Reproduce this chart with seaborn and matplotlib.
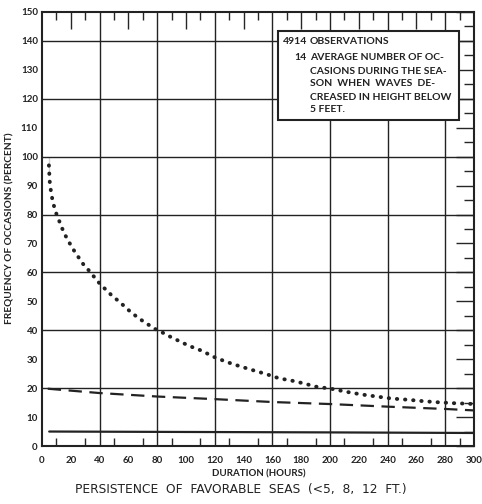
import numpy as np
import pandas as pd
import matplotlib
matplotlib.use("Agg")
import matplotlib.pyplot as plt
from matplotlib.patches import Rectangle
import seaborn as sns

W, H = 482, 504

# curve for waves below 5 ft (dotted)
hours_5ft = [4.8, 4.8, 5.3, 6.0, 6.7, 7.8, 9.4, 11.7, 14.0, 16.3, 19.3, 22.3, 25.8,
             29.4, 32.9, 36.6, 40.3, 44.6, 48.3, 52.4, 57.0, 61.4, 65.5, 69.7, 74.3,
             79.1, 83.7, 88.1, 92.7, 97.5, 101.9, 106.2, 110.6, 119.3, 127.9, 135.9,
             145.1, 155.4, 164.6, 174.3, 182.0, 190.3, 200.7, 211.7, 222.0, 232.4,
             242.8, 253.8, 264.6, 275.4, 286.0, 296.1, 300.0]
pct_5ft = [100.0, 94.0, 91.7, 88.8, 86.5, 83.9, 81.0, 78.1, 75.2, 72.7, 70.0, 67.5, 64.9,
           62.3, 60.5, 58.2, 56.0, 53.9, 52.1, 50.4, 48.4, 46.4, 44.8, 43.3, 41.8,
           40.3, 39.2, 38.0, 36.9, 35.7, 34.7, 33.8, 33.0, 30.8, 29.1, 27.8,
           26.4, 24.9, 23.4, 22.5, 21.6, 20.5, 19.8, 18.7, 17.8, 17.1,
           16.4, 16.0, 15.5, 15.1, 14.8, 14.6, 14.5]

# dashed curve
hours_dash = [4, 40, 80, 120, 160, 200, 240, 280, 300]
pct_dash = [19.8, 18.3, 17.1, 16.2, 15.2, 14.5, 13.6, 12.8, 12.3]

# solid curve
hours_solid = [5, 100, 200, 300]
pct_solid = [5.0, 4.85, 4.7, 4.5]

x_ticks = list(range(0, 301, 20))
y_ticks = list(range(0, 151, 10))

note_num = ["4914", "14"]
note_lines = [["OBSERVATIONS"],
              ["AVERAGE NUMBER OF OC-", "CASIONS DURING THE SEA-",
               "SON  WHEN  WAVES  DE-", "CREASED IN HEIGHT BELOW", "5 FEET."]]

sns.set_style("white")
plt.rcParams["font.family"] = ["Lato", "DejaVu Sans"]

fig = plt.figure(figsize=(W / 100, H / 100), dpi=100)
ax = fig.add_axes([42 / W, 1 - 446 / H, (474 - 42) / W, (446 - 12) / H])


def fpos(x, y):
    return x / W, 1 - y / H


df_dot = pd.DataFrame({"h": hours_5ft, "p": pct_5ft})
df_dash = pd.DataFrame({"h": hours_dash, "p": pct_dash})
df_solid = pd.DataFrame({"h": hours_solid, "p": pct_solid})

sns.lineplot(data=df_dot, x="h", y="p", ax=ax, sort=False, color="#222222",
             lw=2.8, linestyle=(0, (0.1, 2.0)), dash_capstyle="round", zorder=4)
sns.lineplot(data=df_dash, x="h", y="p", ax=ax, sort=False, color="#222222",
             lw=1.6, linestyle=(0, (6.0, 3.4)), zorder=4)
sns.lineplot(data=df_solid, x="h", y="p", ax=ax, sort=False, color="#222222",
             lw=1.6, zorder=4)

ax.set_xlim(0, 300)
ax.set_ylim(0, 150)

# grid
for gx in range(40, 300, 40):
    ax.axvline(gx, color="#222222", lw=1.0, zorder=1)
for gy in range(20, 150, 20):
    ax.axhline(gy, color="#222222", lw=1.0, zorder=1)

ax.set_xticks(x_ticks)
ax.set_xticklabels([str(t) for t in x_ticks])
ax.set_yticks(y_ticks)
ax.set_yticklabels([str(t) for t in y_ticks])
ax.set_xticks(list(range(10, 300, 20)), minor=True)
ax.set_yticks(list(range(5, 150, 10)), minor=True)
ax.tick_params(axis="x", which="major", direction="in", length=0, pad=7,
               labelsize=7, top=False)
ax.tick_params(axis="x", which="minor", direction="in", length=6, width=1.0,
               bottom=True, top=True)
ax.tick_params(axis="y", which="major", direction="in", length=13, width=1.0,
               pad=3, labelsize=7, right=True)
ax.tick_params(axis="y", which="minor", direction="in", length=7, width=1.0,
               right=True)
for lab in ax.get_xticklabels() + ax.get_yticklabels():
    lab.set_fontweight("bold")
    lab.set_color("#222222")

# extra top ticks at the 20-hour marks
sec = ax.secondary_xaxis("top")
sec.set_xticks([t for t in range(20, 300, 20) if t % 40 != 0])
sec.tick_params(direction="in", length=12, width=1.0, labeltop=False)
sec.spines["top"].set_visible(False)

for s in ax.spines.values():
    s.set_linewidth(1.5)
    s.set_color("#222222")

ax.set_xlabel("")
ax.set_ylabel("")

fig.text(*fpos(259, 474), "DURATION (HOURS)", ha="center", va="center",
         fontsize=7, fontweight="bold", color="#222222")
fig.text(*fpos(10, 228), "FREQUENCY OF OCCASIONS (PERCENT)", ha="center",
         va="center", rotation=90, fontsize=7.3, fontweight="bold", color="#222222")
fig.text(*fpos(241, 489), "PERSISTENCE  OF  FAVORABLE  SEAS  (<5,  8,  12  FT.)",
         ha="center", va="center", fontsize=8.8, color="#222222",
         family=["DejaVu Sans"])

# note box
bx0, by0 = fpos(278, 120)
bx1, by1 = fpos(459, 31)
fig.patches.append(Rectangle((bx0, by0), bx1 - bx0, by1 - by0, transform=fig.transFigure,
                             facecolor="white", edgecolor="#222222", lw=1.5, zorder=5))
line_y = [42, 57, 71, 84, 97, 110]
fs_note = 7.5
fig.text(*fpos(307, line_y[0]), note_num[0], ha="right", va="center",
         fontsize=fs_note, fontweight="bold", color="#222222", zorder=6)
fig.text(*fpos(310, line_y[0]), note_lines[0][0], ha="left", va="center",
         fontsize=fs_note, fontweight="bold", color="#222222", zorder=6)
fig.text(*fpos(307, line_y[1]), note_num[1], ha="right", va="center",
         fontsize=fs_note, fontweight="bold", color="#222222", zorder=6)
for i, ln in enumerate(note_lines[1]):
    fig.text(*fpos(310, line_y[1 + i]), ln, ha="left", va="center",
             fontsize=fs_note, fontweight="bold", color="#222222", zorder=6)

fig.savefig("out.png", dpi=100)
